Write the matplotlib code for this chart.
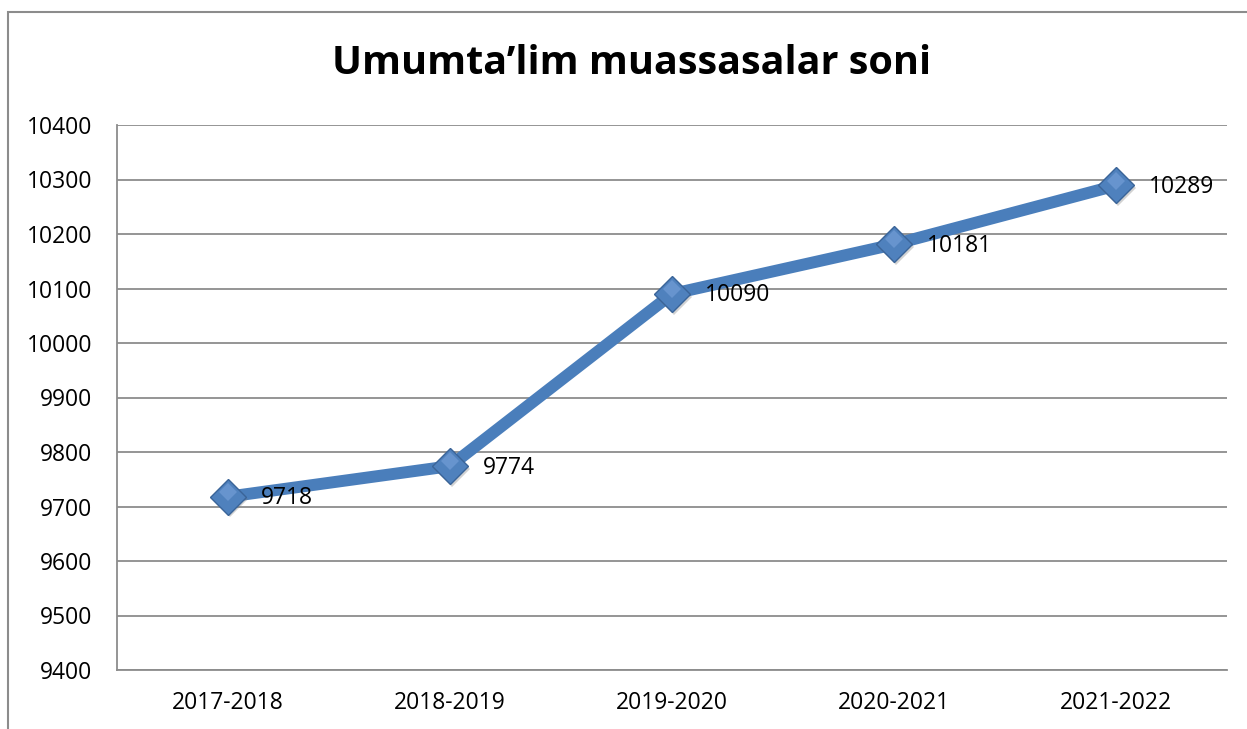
import matplotlib
matplotlib.use("Agg")
import matplotlib.pyplot as plt
from matplotlib.patches import Rectangle

categories = ["2017-2018", "2018-2019", "2019-2020", "2020-2021", "2021-2022"]
values = [9718, 9774, 10090, 10181, 10289]
yticks = [9400, 9500, 9600, 9700, 9800, 9900, 10000, 10100, 10200, 10300, 10400]
title = "Umumta\u2019lim muassasalar soni"

plt.rcParams['font.family'] = ['Open Sans', 'DejaVu Sans']

fig = plt.figure(figsize=(12.47, 7.29), dpi=100)
W, H = 1247, 729
ax = fig.add_axes([117 / W, 1 - 670 / H, (1227 - 117) / W, (670 - 125) / H])

# outer chart frame
fig.patches.append(Rectangle((8 / W, -0.05), 1.2, 1 - 12 / H + 0.05,
                             transform=fig.transFigure, fill=False,
                             edgecolor="#8c8c8c", linewidth=1.5))

x = list(range(len(categories)))
line_color = "#4A7EBB"
ax.plot(x, values, color=line_color, linewidth=8.6, solid_capstyle="butt", zorder=3)
ax.plot([i + 0.01 for i in x], [v - 5 for v in values], linestyle="none", marker="D",
        markersize=18.6, markerfacecolor="#7f7f7f", markeredgewidth=0, alpha=0.35, zorder=4)
ax.plot(x, values, linestyle="none", marker="D", markersize=18.6,
        markerfacecolor="#4F81BD", markeredgecolor="#3A6498", markeredgewidth=1.0, zorder=5)
ax.plot(x, [v + 9 for v in values], linestyle="none", marker="D", markersize=9,
        markerfacecolor="#6E9AD3", markeredgewidth=0, alpha=0.8, zorder=6)

for i, v in zip(x, values):
    ax.annotate(str(v), (i, v), xytext=(24, -1), textcoords="offset points",
                ha="left", va="center", fontsize=16.5, color="black", zorder=7)

ax.set_xlim(-0.5, len(categories) - 0.5)
ax.set_ylim(yticks[0], yticks[-1])
ax.set_yticks(yticks)
ax.set_yticklabels([str(t) for t in yticks])
ax.set_xticks(x)
ax.set_xticklabels(categories)
ax.tick_params(axis="both", length=0, labelsize=16.5, colors="black")
ax.tick_params(axis="y", pad=18)
ax.tick_params(axis="x", pad=15)
ax.grid(axis="y", color="#8c8c8c", linewidth=1.3)
ax.set_axisbelow(True)
for s in ["top", "right"]:
    ax.spines[s].set_visible(False)
for s in ["left", "bottom"]:
    ax.spines[s].set_color("#8c8c8c")
    ax.spines[s].set_linewidth(1.3)

fig.text(632 / W, 1 - 64 / H, title, ha="center", va="center",
         fontsize=28.5, fontweight="bold", color="black")

fig.savefig("out.png", dpi=100)
